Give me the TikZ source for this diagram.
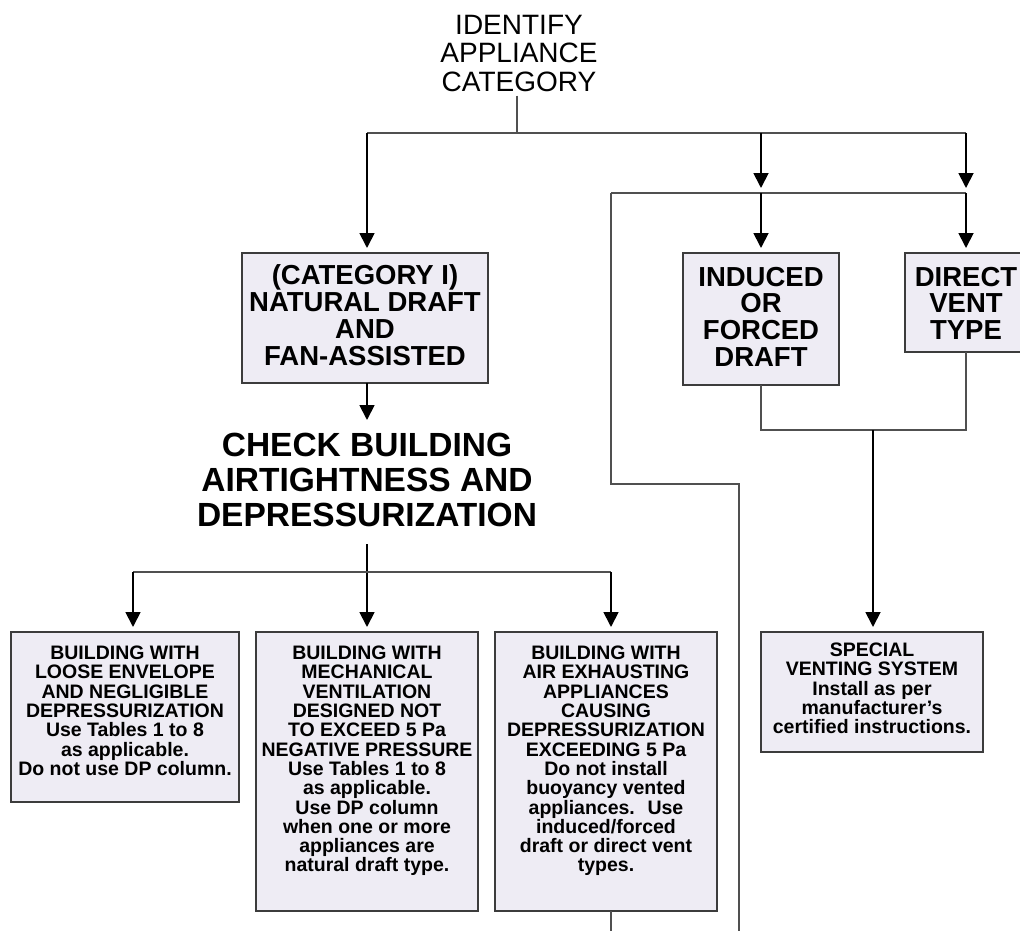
\documentclass[tikz,border=0pt]{standalone}
\usepackage{fontspec}
\setmainfont{Liberation Sans}
\usetikzlibrary{arrows.meta}
\definecolor{boxfill}{RGB}{238,236,244}
\definecolor{boxline}{RGB}{60,60,60}
\definecolor{conline}{RGB}{80,80,80}
\newcommand\bxt[4]{\parbox[t][#2][t]{#1}{\lineskiplimit=-20pt\centering\vspace*{#3}#4\par}}
\begin{document}
\begin{tikzpicture}[x=1pt,y=-1pt,
  box/.style={draw=boxline, line width=1.2pt, fill=boxfill, inner sep=0pt, outer sep=0pt, anchor=north west},
  sbox/.style={box, font=\fontsize{19.5}{19.3}\selectfont\bfseries},
  lbox/.style={box, font=\fontsize{27.5}{26.7}\selectfont\bfseries},
  con/.style={draw=conline, line width=1.5pt},
  arr/.style={draw=black, line width=1.8pt, -{Triangle[width=15pt,length=15pt]}, shorten >=5pt},
]
\useasboundingbox (0,0) rectangle (1020,931);
\clip (0,0) rectangle (1020,931);

% title
\node[font=\fontsize{28}{28.3}\selectfont, align=center, inner sep=0pt, anchor=north] (title) at (519,15) {IDENTIFY\\APPLIANCE\\CATEGORY};

% boxes
\node[lbox] (cat) at (242,253) {\bxt{246pt}{130pt}{12pt}{(CATEGORY I)\\NATURAL DRAFT\\AND\\FAN-ASSISTED}};
\node[lbox] (induced) at (683,253) {\bxt{156pt}{132pt}{14pt}{INDUCED\\OR\\FORCED\\DRAFT}};
\node[lbox] (direct) at (905,253) {\bxt{122pt}{99pt}{14pt}{DIRECT\\VENT\\TYPE}};

\node[font=\fontsize{33.5}{35}\selectfont\bfseries, align=center, inner xsep=0pt, inner ysep=8pt, anchor=north] (check) at (367,425) {CHECK BUILDING\\AIRTIGHTNESS AND\\DEPRESSURIZATION};

\node[sbox] (b1) at (11,632) {\bxt{228pt}{170pt}{14pt}{BUILDING WITH\\LOOSE ENVELOPE\\AND NEGLIGIBLE\\DEPRESSURIZATION\\Use Tables 1 to 8\\as applicable.\\Do not use DP column.}};
\node[sbox] (b2) at (256,632) {\bxt{222pt}{279pt}{14pt}{BUILDING WITH\\MECHANICAL\\VENTILATION\\DESIGNED NOT\\TO EXCEED 5 Pa\\NEGATIVE PRESSURE\\Use Tables 1 to 8\\as applicable.\\Use DP column\\when one or more\\appliances are\\natural draft type.}};
\node[sbox] (b3) at (495,632) {\bxt{222pt}{279pt}{14pt}{BUILDING WITH\\AIR EXHAUSTING\\APPLIANCES\\CAUSING\\DEPRESSURIZATION\\EXCEEDING 5 Pa\\Do not install\\buoyancy vented\\appliances.~ Use\\induced/forced\\draft or direct vent\\types.}};
\node[sbox] (special) at (761,632) {\bxt{222pt}{120pt}{11pt}{SPECIAL\\VENTING SYSTEM\\Install as per\\manufacturer’s\\certified instructions.}};

% junction coordinates
\coordinate (j0) at (517,133);
\coordinate (jL) at (367,133);
\coordinate (jM) at (761,133);
\coordinate (jR) at (966,133);
\coordinate (k1) at (611,193);
\coordinate (kM) at (761,193);
\coordinate (kR) at (966,193);
\coordinate (m1) at (611,484);
\coordinate (m2) at (739,484);
\coordinate (m3) at (739,931);
\coordinate (n1) at (761,430);
\coordinate (n2) at (966,430);
\coordinate (nM) at (873,430);
\coordinate (p0) at (367,572);
\coordinate (pL) at (133,572);
\coordinate (pR) at (611,572);
\coordinate (q) at (611,931);

% connectors
\draw[con] ([yshift=-4pt]title.south -| j0) -- (j0);
\draw[con] (jL) -- (jR);
\draw[arr] (jL) -- (jL |- cat.north);
\draw[arr] (jM) -- (kM);
\draw[arr] (jR) -- (kR);
\draw[con] (k1) -- (kR);
\draw[arr] (kM) -- (induced.north);
\draw[arr] (kR) -- (direct.north);
\draw[con] (k1) -- (m1) -- (m2) -- (m3);
\draw[con] (induced.south) -- (n1) -- (n2) -- (direct.south);
\draw[arr] (nM) -- (special.north -| nM);
\draw[arr] (jL |- cat.south) -- (check.north);
\draw[arr] ([yshift=-9pt]check.south) -- (b2.north);
\draw[con] (pL) -- (pR);
\draw[arr] (pL) -- (pL |- b1.north);
\draw[arr] (pR) -- (pR |- b3.north);
\draw[con] (pR |- b3.south) -- (q);
\end{tikzpicture}
\end{document}
